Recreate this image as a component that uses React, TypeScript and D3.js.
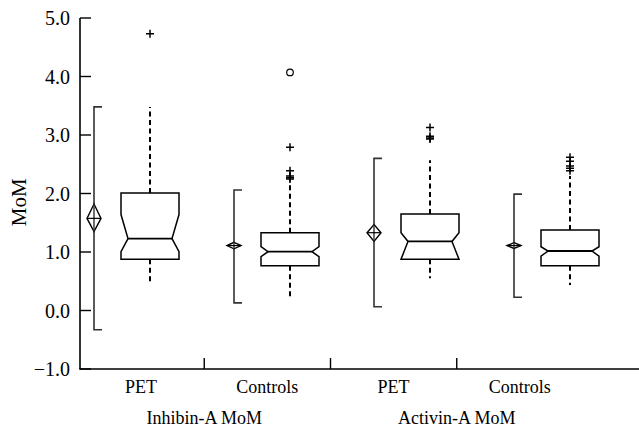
import { useEffect, useRef } from 'react'
import * as d3 from 'd3'

const groups = ['Inhibin PET', 'Inhibin Controls', 'Activin PET', 'Activin Controls']
const catLabels = ['PET', 'Controls', 'PET', 'Controls']
const markerLabels = ['Inhibin-A MoM', 'Activin-A MoM']
const yTicks = [-1, 0, 1, 2, 3, 4, 5]

// box plot stats (MoM)
const q1 = [0.875, 0.766, 0.875, 0.766]
const median = [1.23, 1.005, 1.18, 1.017]
const q3 = [2.01, 1.33, 1.65, 1.376]
const notchLo = [1.005, 0.92, 0.875, 0.93]
const notchHi = [1.64, 1.09, 1.33, 1.09]
const whiskerLo = [0.49, 0.21, 0.55, 0.436]
const whiskerHi = [3.48, 2.2, 2.57, 2.3]
const outliers = [[4.73], [2.79, 2.39, 2.3, 2.27, 2.25], [3.13, 2.98, 2.95, 2.93], [2.62, 2.55, 2.47, 2.43, 2.39]]
const farOutliers = [[], [4.07], [], []]

// mean with CI (diamond) and range (bracket)
const mean = [1.575, 1.11, 1.33, 1.11]
const meanLo = [1.35, 1.055, 1.18, 1.06]
const meanHi = [1.82, 1.165, 1.47, 1.16]
const rangeLo = [-0.33, 0.13, 0.065, 0.226]
const rangeHi = [3.48, 2.06, 2.6, 1.99]

const FONT = '"Liberation Serif", "Times New Roman", serif'

export default function App() {
  const ref = useRef<SVGSVGElement | null>(null)

  useEffect(() => {
    if (!ref.current) return
    const width = 639, height = 430
    const svg = d3.select(ref.current).attr('width', width).attr('height', height)
    svg.selectAll('*').remove()

    const y = d3.scaleLinear().domain([-1, 5]).range([369, 18])
    const xBox = d3.scaleBand().domain(groups).range([80, 640])
    const xLab = d3.scaleBand().domain(groups).range([78, 583])
    const bw = xBox.bandwidth()
    const half = 29, ind = 7

    // axes
    svg.append('line').attr('x1', 80).attr('x2', 80).attr('y1', y(5)).attr('y2', y(-1))
      .attr('stroke', '#000').attr('stroke-width', 1.6)
    svg.append('line').attr('x1', 79.2).attr('x2', width).attr('y1', y(-1)).attr('y2', y(-1))
      .attr('stroke', '#000').attr('stroke-width', 1.6)

    const yt = svg.append('g')
    yTicks.forEach(t => {
      yt.append('line').attr('x1', 80).attr('x2', 91).attr('y1', y(t)).attr('y2', y(t))
        .attr('stroke', '#000').attr('stroke-width', 1.4)
      yt.append('text').attr('x', 70).attr('y', y(t)).attr('dy', '0.36em')
        .attr('text-anchor', 'end').attr('font-family', FONT).attr('font-size', 20)
        .text(t < 0 ? '\u2212' + Math.abs(t).toFixed(1) : t.toFixed(1))
    })
    svg.append('text').attr('transform', `translate(26,${y(1.85)}) rotate(-90)`)
      .attr('text-anchor', 'middle').attr('font-family', FONT).attr('font-size', 21).text('MoM')

    groups.slice(1).forEach(g => {
      svg.append('line').attr('x1', xLab(g)!).attr('x2', xLab(g)!).attr('y1', y(-1)).attr('y2', y(-1) - 11)
        .attr('stroke', '#000').attr('stroke-width', 1.4)
    })
    groups.forEach((g, i) => {
      svg.append('text').attr('x', xLab(g)! + xLab.bandwidth() / 2).attr('y', 393)
        .attr('text-anchor', 'middle').attr('font-family', FONT).attr('font-size', 18).text(catLabels[i])
    })
    markerLabels.forEach((m, i) => {
      svg.append('text').attr('x', xLab(groups[i * 2 + 1])!).attr('y', 424)
        .attr('text-anchor', 'middle').attr('font-family', FONT).attr('font-size', 18).text(m)
    })

    groups.forEach((g, i) => {
      const cx = xBox(g)! + bw / 2
      const mx = xBox(g)! + 14
      const L = cx - half, R = cx + half
      const grp = svg.append('g')

      // range bracket
      grp.append('path')
        .attr('d', `M${mx + 8},${y(rangeHi[i])}H${mx}V${y(rangeLo[i])}H${mx + 8}`)
        .attr('fill', 'none').attr('stroke', '#333').attr('stroke-width', 1.6)
      // mean diamond
      const dw = 7
      grp.append('path')
        .attr('d', `M${mx},${y(meanHi[i])}L${mx + dw},${y(mean[i])}L${mx},${y(meanLo[i])}L${mx - dw},${y(mean[i])}Z`)
        .attr('fill', '#fff').attr('stroke', '#000').attr('stroke-width', 1.4)
      grp.append('line').attr('x1', mx).attr('x2', mx).attr('y1', y(meanHi[i])).attr('y2', y(meanLo[i]))
        .attr('stroke', '#333').attr('stroke-width', 1.4)
      grp.append('line').attr('x1', mx - dw).attr('x2', mx + dw).attr('y1', y(mean[i])).attr('y2', y(mean[i]))
        .attr('stroke', '#000').attr('stroke-width', 1.2)

      // whiskers
      grp.append('line').attr('x1', cx).attr('x2', cx).attr('y1', y(q3[i])).attr('y2', y(whiskerHi[i]))
        .attr('stroke', '#000').attr('stroke-width', 2).attr('stroke-dasharray', '5,3.5')
      grp.append('line').attr('x1', cx).attr('x2', cx).attr('y1', y(q1[i])).attr('y2', y(whiskerLo[i]))
        .attr('stroke', '#000').attr('stroke-width', 2).attr('stroke-dasharray', '5,3.5')

      // notched box
      const pts: [number, number][] = [
        [L, y(q3[i])], [R, y(q3[i])], [R, y(notchHi[i])], [R - ind, y(median[i])], [R, y(notchLo[i])],
        [R, y(q1[i])], [L, y(q1[i])], [L, y(notchLo[i])], [L + ind, y(median[i])], [L, y(notchHi[i])]
      ]
      grp.append('path').attr('d', d3.line()(pts) + 'Z')
        .attr('fill', '#fff').attr('stroke', '#000').attr('stroke-width', 1.5)
      grp.append('line').attr('x1', L + ind).attr('x2', R - ind).attr('y1', y(median[i])).attr('y2', y(median[i]))
        .attr('stroke', '#000').attr('stroke-width', 1.8)

      // outliers
      outliers[i].forEach(v => {
        grp.append('path').attr('d', `M${cx - 4},${y(v)}H${cx + 4}M${cx},${y(v) - 4}V${y(v) + 4}`)
          .attr('stroke', '#000').attr('stroke-width', 1.5)
      })
      farOutliers[i].forEach(v => {
        grp.append('circle').attr('cx', cx).attr('cy', y(v)).attr('r', 3.3)
          .attr('fill', 'none').attr('stroke', '#000').attr('stroke-width', 1.2)
      })
    })
  }, [])

  return (
    <svg ref={ref} style={{ position: 'absolute', left: 0, top: 0, display: 'block', background: '#fff' }} />
  )
}
